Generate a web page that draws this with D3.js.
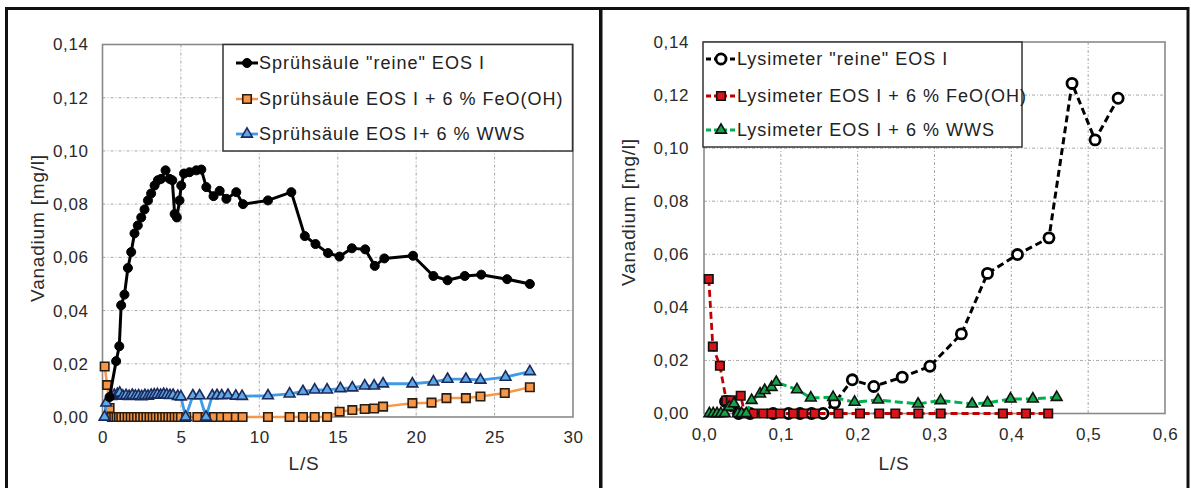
<!DOCTYPE html>
<html><head><meta charset="utf-8">
<script src="https://cdn.jsdelivr.net/npm/d3@7"></script>
<style>
html,body{margin:0;padding:0;background:#fff;}
svg text{font-family:"Liberation Sans",Arial,sans-serif;}
</style></head>
<body>
<script>
// ---------- DATA ----------
// Left chart: Sprühsäule
const leftXTicks = [0,5,10,15,20,25,30];
const leftYTicks = [0,0.02,0.04,0.06,0.08,0.10,0.12,0.14];
const leftSeriesNames = ['Sprühsäule "reine" EOS I','Sprühsäule EOS I + 6 % FeO(OH)','Sprühsäule EOS I+ 6 % WWS'];

const sprReineLS = [0.45,0.87,1.07,1.19,1.4,1.62,1.83,2.04,2.25,2.47,2.68,2.9,3.1,3.32,3.53,3.74,4.02,4.28,4.45,4.6,4.74,4.91,5.02,5.2,5.55,5.98,6.3,6.62,7.08,7.47,7.9,8.53,8.96,10.55,12.04,12.9,13.58,14.38,15.11,15.9,16.75,17.36,17.97,19.8,21.1,22.0,23.1,24.15,25.8,27.25];
const sprReineV  = [0.0075,0.021,0.0266,0.042,0.046,0.056,0.062,0.069,0.072,0.075,0.078,0.0814,0.084,0.087,0.089,0.0895,0.0927,0.0895,0.089,0.0763,0.075,0.0814,0.087,0.0915,0.092,0.0927,0.093,0.0864,0.083,0.085,0.082,0.0845,0.080,0.0814,0.0845,0.068,0.065,0.0616,0.0603,0.0634,0.063,0.0568,0.0596,0.0606,0.053,0.0514,0.053,0.0535,0.0518,0.050];

const sprFeLS = [0.14,0.3,0.45,0.6,0.75,0.9,1.05,1.2,1.4,1.6,1.8,2.0,2.2,2.4,2.6,2.8,3.0,3.2,3.4,3.6,3.8,4.0,4.2,4.4,4.6,4.8,5.0,5.34,6.05,6.58,7.12,7.55,7.97,8.5,8.93,10.55,11.93,12.78,13.53,14.32,15.12,15.93,16.72,17.32,17.89,19.76,20.98,21.93,23.17,24.1,25.65,27.25];
const sprFeV  = [0.019,0.012,0.0034,0,0,0,0,0,0,0,0,0,0,0,0,0,0,0,0,0,0,0,0,0,0,0,0,0,0,0,0,0,0,0,0,0,0,0,0,0,0.002,0.0026,0.003,0.0032,0.0039,0.0052,0.0054,0.0071,0.0071,0.0077,0.009,0.0112];

const sprWwsLS = [0.13,0.24,0.55,0.75,0.95,1.1,1.3,1.5,1.7,1.9,2.1,2.3,2.5,2.7,2.9,3.1,3.3,3.5,3.7,3.9,4.1,4.3,4.5,4.8,5.0,5.3,5.76,6.19,6.6,7.0,7.3,7.6,8.0,8.5,8.9,10.55,11.93,12.78,13.53,14.32,15.17,15.93,16.72,17.32,17.89,19.76,21.1,22.0,23.17,24.1,25.7,27.25];
const sprWwsV  = [0,0.0053,0.0078,0.0082,0.0085,0.009,0.0079,0.0081,0.0078,0.0082,0.0079,0.008,0.0077,0.0081,0.0079,0.0082,0.0083,0.0084,0.0082,0.0085,0.0083,0.0081,0.0082,0.0078,0.0076,0,0.008,0.008,0,0.008,0.0081,0.008,0.0082,0.0079,0.0078,0.008,0.0087,0.0096,0.0102,0.0102,0.0107,0.011,0.0117,0.0117,0.0125,0.0125,0.0132,0.0142,0.0142,0.0139,0.015,0.0171];

// Right chart: Lysimeter
const rightXTicks = [0,0.1,0.2,0.3,0.4,0.5,0.6];
const rightYTicks = [0,0.02,0.04,0.06,0.08,0.10,0.12,0.14];
const rightSeriesNames = ['Lysimeter "reine" EOS I','Lysimeter EOS I + 6 % FeO(OH)','Lysimeter EOS I + 6 % WWS'];

const lysReineLS = [0.028,0.035,0.045,0.06,0.09,0.11,0.125,0.14,0.155,0.17,0.193,0.221,0.258,0.294,0.335,0.369,0.408,0.449,0.479,0.509,0.539];
const lysReineV  = [0.0045,0.003,0,0,0,0,0,0,0,0.004,0.0127,0.0102,0.0137,0.0178,0.030,0.0528,0.0599,0.0662,0.1244,0.1031,0.1188];

const lysFeLS = [0.0062,0.0115,0.0207,0.029,0.035,0.0478,0.053,0.064,0.077,0.088,0.099,0.116,0.129,0.144,0.175,0.203,0.228,0.249,0.279,0.308,0.389,0.419,0.448];
const lysFeV  = [0.0507,0.0252,0.018,0.0049,0.005,0.0067,0,0,0,0,0,0,0,0,0,0,0,0,0,0,0,0,0];

const lysWwsLS = [0.007,0.012,0.017,0.022,0.027,0.033,0.039,0.044,0.049,0.055,0.062,0.073,0.079,0.088,0.094,0.121,0.139,0.168,0.196,0.2265,0.2786,0.308,0.349,0.369,0.399,0.428,0.459];
const lysWwsV  = [0,0,0,0,0,0.0025,0.0037,0,0,0,0.005,0.0074,0.0087,0.0099,0.0118,0.009,0.0059,0.0061,0.0043,0.0051,0.0036,0.0049,0.0036,0.004,0.0055,0.0055,0.0061];

// ---------- DRAW ----------
const W = 1191, H = 488;
const svg = d3.select('body').append('svg').attr('width', W).attr('height', H);
svg.append('rect').attr('width', W).attr('height', H).attr('fill', '#fff');

const comma = d => d.toFixed(2).replace('.', ',');
const comma1 = d => d.toFixed(1).replace('.', ',');

function zip(xs, ys){ return xs.map((x,i)=>({x, y: ys[i]})); }

function drawChart(cfg){
  const g = svg.append('g');
  const x = d3.scaleLinear().domain(cfg.xDomain).range([cfg.left, cfg.right]);
  const y = d3.scaleLinear().domain([0, 0.14]).range([cfg.bottom, cfg.top]);

  // grid
  g.append('g').selectAll('line.vg').data(cfg.xTicks.slice(1, -1)).join('line')
    .attr('x1', d => x(d)).attr('x2', d => x(d)).attr('y1', cfg.top).attr('y2', cfg.bottom)
    .attr('stroke', '#a8a8a8').attr('stroke-width', 1).attr('stroke-dasharray', '3,2,1,2');
  g.append('g').selectAll('line.hg').data(cfg.yTicks.slice(1, -1)).join('line')
    .attr('y1', d => y(d)).attr('y2', d => y(d)).attr('x1', cfg.left).attr('x2', cfg.right)
    .attr('stroke', '#a8a8a8').attr('stroke-width', 1).attr('stroke-dasharray', '3,2,1,2');

  // frame
  g.append('rect').attr('x', cfg.left).attr('y', cfg.top)
    .attr('width', cfg.right - cfg.left).attr('height', cfg.bottom - cfg.top)
    .attr('fill', 'none').attr('stroke', '#8a8a8a').attr('stroke-width', 1.6);

  // axes (labels only)
  const yAxis = d3.axisLeft(y).tickValues(cfg.yTicks).tickFormat(comma).tickSize(0).tickPadding(cfg.yPad);
  const ya = g.append('g').attr('transform', `translate(${cfg.left},0)`).call(yAxis);
  const xAxis = d3.axisBottom(x).tickValues(cfg.xTicks).tickFormat(cfg.xFmt).tickSize(0).tickPadding(14);
  const xa = g.append('g').attr('transform', `translate(0,${cfg.bottom})`).call(xAxis);
  [ya, xa].forEach(a => {
    a.select('.domain').remove();
    a.selectAll('text').attr('font-size', 17).attr('fill', '#2a2a2a')
      .attr('font-family', '"Liberation Sans",Arial,sans-serif').attr('letter-spacing', '0.6px');
  });

  // axis titles
  g.append('text').attr('transform', `translate(${cfg.yTitleX},${cfg.yTitleY}) rotate(-90)`)
    .attr('text-anchor', 'middle').attr('dominant-baseline', 'central')
    .attr('font-size', 19).attr('letter-spacing', '0.8px').attr('fill', '#2a2a2a').text('Vanadium [mg/l]');
  g.append('text').attr('x', cfg.xTitleX).attr('y', cfg.xTitleY)
    .attr('text-anchor', 'middle').attr('dominant-baseline', 'central')
    .attr('font-size', 19).attr('letter-spacing', '0.8px').attr('fill', '#2a2a2a').text('L/S');

  const line = d3.line().x(d => x(d.x)).y(d => y(d.y));
  const plot = g.append('g');
  cfg.series.forEach(s => {
    const data = zip(s.xs, s.ys);
    plot.append('path').datum(data).attr('d', line).attr('fill', 'none')
      .attr('stroke', s.color).attr('stroke-width', s.lw)
      .attr('stroke-dasharray', s.dash || null).attr('stroke-linejoin', 'round');
    plot.append('g').selectAll('path').data(data).join('path')
      .attr('transform', d => `translate(${x(d.x)},${y(d.y)})`)
      .attr('d', d3.symbol().type(s.symbol).size(s.size))
      .attr('fill', s.fill).attr('stroke', s.mstroke).attr('stroke-width', s.msw);
  });

  // legend
  const L = cfg.legend;
  const lg = g.append('g');
  lg.append('rect').attr('x', L.x).attr('y', L.y).attr('width', L.w).attr('height', L.h)
    .attr('fill', '#fff').attr('stroke', '#333').attr('stroke-width', 1.5);
  cfg.legendOrder.forEach((s, i) => {
    const cy = L.rows[i];
    lg.append('line').attr('x1', L.lx1).attr('x2', L.lx2).attr('y1', cy).attr('y2', cy)
      .attr('stroke', s.color).attr('stroke-width', s.lw).attr('stroke-dasharray', s.dash ? '5,3' : null);
    lg.append('path').attr('transform', `translate(${L.mx},${cy})`)
      .attr('d', d3.symbol().type(s.symbol).size(s.size))
      .attr('fill', s.fill).attr('stroke', s.mstroke).attr('stroke-width', s.msw);
    lg.append('text').attr('x', L.tx).attr('y', cy).attr('dominant-baseline', 'central')
      .attr('font-size', 18).attr('letter-spacing', '1px').attr('fill', '#222').text(s.name);
  });
}

const sReine = {name: leftSeriesNames[0], xs: sprReineLS, ys: sprReineV, color: '#000', lw: 3,
  symbol: d3.symbolCircle, size: 64, fill: '#000', mstroke: '#000', msw: 1};
const sFe = {name: leftSeriesNames[1], xs: sprFeLS, ys: sprFeV, color: '#f79646', lw: 2.5,
  symbol: d3.symbolSquare, size: 72, fill: '#f79646', mstroke: '#2b1d10', msw: 1.6};
const sWws = {name: leftSeriesNames[2], xs: sprWwsLS, ys: sprWwsV, color: '#3d9be9', lw: 2.8,
  symbol: d3.symbolTriangle, size: 50, fill: '#5fa8e6', mstroke: '#1b2a5c', msw: 1.6};

drawChart({
  xDomain: [0, 30], xTicks: leftXTicks, yTicks: leftYTicks, xFmt: d => String(d),
  left: 102.5, right: 573, top: 44.5, bottom: 417, yPad: 14,
  yTitleX: 37, yTitleY: 228, xTitleX: 304, xTitleY: 463,
  series: [sFe, sWws, sReine],
  legendOrder: [sReine, sFe, sWws],
  legend: {x: 223, y: 44.5, w: 349.5, h: 106.5, rows: [63, 99, 134], lx1: 236, lx2: 258, mx: 247, tx: 259}
});

const rReine = {name: rightSeriesNames[0], xs: lysReineLS, ys: lysReineV, color: '#000', lw: 3, dash: '7,4',
  symbol: d3.symbolCircle, size: 80, fill: '#fff', mstroke: '#000', msw: 2.8};
const rFe = {name: rightSeriesNames[1], xs: lysFeLS, ys: lysFeV, color: '#c00000', lw: 2.8, dash: '7,4',
  symbol: d3.symbolSquare, size: 72, fill: '#d7141a', mstroke: '#111', msw: 1.6};
const rWws = {name: rightSeriesNames[2], xs: lysWwsLS, ys: lysWwsV, color: '#00b050', lw: 3, dash: '8,4',
  symbol: d3.symbolTriangle, size: 50, fill: '#13a348', mstroke: '#111', msw: 1.6};

drawChart({
  xDomain: [0, 0.6], xTicks: rightXTicks, yTicks: rightYTicks, xFmt: comma1,
  left: 704, right: 1165, top: 42, bottom: 413.5, yPad: 15,
  yTitleX: 628, yTitleY: 212, xTitleX: 894, xTitleY: 463,
  series: [rReine, rFe, rWws],
  legendOrder: [rReine, rFe, rWws],
  legend: {x: 703, y: 42, w: 319, h: 105, rows: [59, 96, 130], lx1: 706, lx2: 736, mx: 721, tx: 737}
});

// outer panel frames
svg.append('rect').attr('x', 6.5).attr('y', 8.5).attr('width', 594).attr('height', 500)
  .attr('fill', 'none').attr('stroke', '#111').attr('stroke-width', 3);
svg.append('rect').attr('x', 601).attr('y', 8.5).attr('width', 587).attr('height', 500)
  .attr('fill', 'none').attr('stroke', '#111').attr('stroke-width', 3);
</script>
</body></html>
